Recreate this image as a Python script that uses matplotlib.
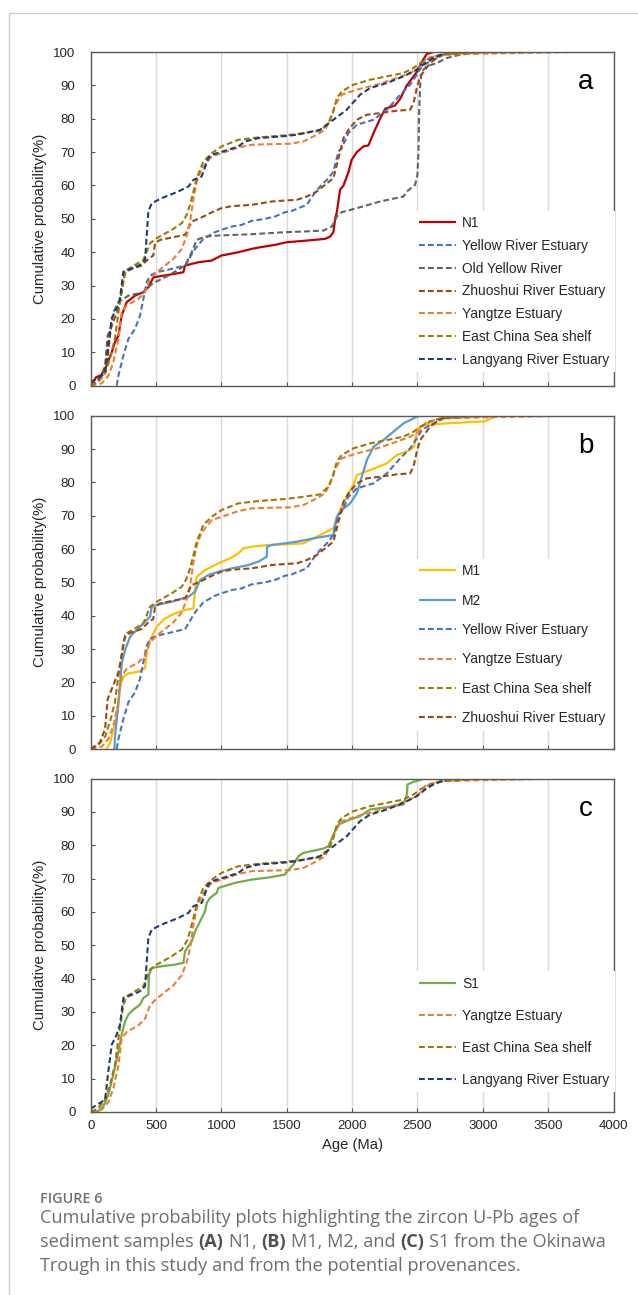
import matplotlib
matplotlib.use("Agg")
import matplotlib.pyplot as plt
from matplotlib.lines import Line2D

# ---------------- data (age in Ma, cumulative probability in %) ----------------
n1_age = [0, 40, 80, 110, 135, 161, 185, 212, 237, 275, 339, 403, 441, 467, 480, 594, 709, 722, 824, 925,
          1000, 1130, 1232, 1283, 1410, 1500, 1628, 1793, 1832, 1857, 1870, 1883, 1908, 1934, 1972, 1997,
          2036, 2087, 2125, 2164, 2214, 2253, 2329, 2368, 2419, 2457, 2495, 2533, 2571, 2622]
n1_cum = [0, 2.5, 3.2, 5, 7.5, 10, 13, 15, 21, 25, 27, 28, 29.5, 31.5, 32.5, 33.2, 34, 36, 37, 37.5,
          39, 40, 41, 41.4, 42.2, 43, 43.4, 44, 44.7, 46, 50, 52, 58.7, 60, 64, 67.7,
          70, 71.7, 72, 75.7, 80, 83, 84, 86, 90, 92, 94, 97, 99.4, 100]

yre_age = [199, 212, 250, 288, 339, 377, 403, 428, 454, 505, 619, 722, 798, 862, 951, 1000, 1079, 1155,
           1232, 1334, 1410, 1486, 1526, 1653, 1704, 1755, 1819, 1857, 1896, 1921, 1972, 2036, 2164, 2266,
           2368, 2444, 2495, 2533, 2597, 2700, 2827, 3100, 3500]
yre_cum = [0, 3, 9, 14, 17, 21, 26, 31, 33, 34, 35, 36, 41, 44, 46, 46.7, 47.7, 48.2,
           49.4, 50, 50.7, 52, 52.2, 54.2, 57.2, 59.7, 62.2, 64.2, 70.2, 71.2, 75.7, 78.2, 79.7, 82.7,
           87.2, 90.2, 93.2, 95.7, 97.2, 99.2, 99.7, 99.9, 100]

oyr_age = [0, 84, 122, 148, 173, 212, 288, 403, 454, 492, 594, 722, 773, 811, 875, 977, 1104, 1232, 1486,
           1628, 1781, 1845, 1883, 1921, 2036, 2214, 2393, 2419, 2482, 2500, 2508, 2513, 2521, 2533, 2571,
           2648, 2725, 2827, 3000]
oyr_cum = [0, 3, 6, 15, 22, 25, 27, 28, 30, 31, 33, 36, 40, 43.7, 44.7, 45, 45.2, 45.4, 46,
           46.2, 46.5, 47.7, 50.7, 52, 53.2, 55.2, 56.7, 58.2, 60.2, 63.2, 70.2, 82, 90.2, 94.2, 95.7,
           96.7, 98.2, 99.2, 100]

zre_age = [0, 71, 110, 130, 161, 212, 237, 263, 314, 390, 441, 479, 492, 531, 620, 722, 773, 837, 913,
           1000, 1079, 1232, 1385, 1486, 1577, 1653, 1730, 1793, 1857, 1896, 1934, 1972, 2036, 2113, 2214,
           2342, 2444, 2470, 2495, 2521, 2559, 2597, 2648, 2700, 2760]
zre_cum = [0, 2, 6, 15, 18, 23, 28, 34, 35, 36, 38, 39, 42.7, 43.7, 44.4, 45.2, 49.2, 50.2, 51.7,
           53.2, 53.8, 54.2, 55.2, 55.5, 55.7, 56.7, 58.2, 60.2, 62.2, 68.2, 74.2, 76.7, 79.7, 81.2, 81.7,
           82.4, 82.7, 84.7, 89.2, 92.7, 94.7, 96.7, 98.2, 99.4, 100]

ye_age = [0, 84, 135, 173, 212, 237, 275, 365, 416, 454, 505, 569, 633, 697, 735, 760, 786, 811, 849,
          926, 1028, 1130, 1232, 1385, 1526, 1628, 1730, 1793, 1832, 1870, 1921, 2036, 2189, 2342, 2444,
          2508, 2571, 2700, 3000, 3400, 3710]
ye_cum = [0, 0.7, 3, 7, 14, 22, 24, 26, 28, 32, 34, 36, 38, 41, 45, 49, 56, 61, 65,
          68.7, 70, 71.4, 72.2, 72.4, 72.5, 73.2, 75.2, 76.7, 79.7, 84.2, 87.2, 88.7, 90.2, 92.2, 93.7,
          95.2, 98.2, 99.2, 99.5, 99.8, 100]

ecs_age = [0, 59, 110, 148, 186, 212, 250, 275, 339, 403, 454, 505, 620, 697, 735, 760, 786, 811, 862,
           926, 1002, 1130, 1283, 1486, 1577, 1755, 1819, 1857, 1883, 1921, 2010, 2138, 2266, 2393, 2470,
           2521, 2597, 2674, 2801, 3000]
ecs_cum = [0, 1.2, 3.7, 8.2, 14.2, 22, 32, 34.7, 36.2, 37.7, 42.7, 44.2, 46.7, 48.7, 51.2, 54.2, 58.2, 62.2, 67.2,
           69.7, 71.7, 73.7, 74.4, 75, 75.4, 76.4, 78.7, 82.2, 86.2, 88.2, 90.2, 91.7, 92.7, 93.7, 95.2,
           96.7, 98.2, 99.2, 99.4, 100]

lre_age = [0, 71, 110, 135, 161, 199, 224, 250, 288, 377, 416, 441, 467, 543, 671, 748, 786, 849, 900,
           926, 1028, 1130, 1181, 1283, 1486, 1577, 1755, 1806, 1857, 1959, 2061, 2138, 2266, 2393, 2495,
           2559, 2622, 2700, 2725]
lre_cum = [1.0, 2.7, 3.7, 12.2, 20.2, 23.2, 26.2, 34.2, 34.7, 36.2, 37.7, 52.2, 54.7, 56.2, 58.2, 59.7, 61.7, 62.7, 68.2,
           69.2, 70.4, 71.7, 73.2, 74.2, 74.8, 75.2, 76.7, 78.2, 79.7, 82.7, 87.2, 89.2, 90.7, 92.7, 94.7,
           96.7, 98.2, 99.4, 100]

m1_age = [120, 148, 199, 224, 250, 288, 365, 416, 428, 446, 467, 505, 569, 646, 722, 786, 798, 811, 875,
          977, 1066, 1130, 1168, 1232, 1360, 1486, 1628, 1704, 1781, 1857, 1883, 1921, 1972, 2010, 2036,
          2138, 2266, 2342, 2444, 2474, 2495, 2546, 2725, 3013, 3106]
m1_cum = [0, 1.7, 9.7, 18.7, 21.7, 22.7, 23.2, 24.2, 28.7, 31.7, 33.7, 36.7, 39.2, 40.7, 41.7, 42.2, 47.2, 51.7, 53.7,
          55.7, 57.2, 58.7, 60.2, 60.7, 61.2, 61.4, 61.7, 63.2, 64.7, 66.2, 69.2, 72.7, 76.7, 79.2, 82.2,
          83.7, 85.7, 88.2, 89.7, 90.7, 95.7, 97.2, 97.7, 98.3, 100]

m2_age = [181, 186, 212, 237, 263, 301, 365, 428, 454, 467, 505, 620, 748, 798, 837, 900, 977, 1079, 1207,
          1283, 1347, 1350, 1385, 1486, 1577, 1704, 1857, 1883, 1921, 1985, 2036, 2074, 2113, 2164, 2240,
          2316, 2393, 2495, 2521]
m2_cum = [0, 3.7, 13.7, 25.7, 29.7, 33.7, 36.2, 38.7, 39.7, 42.7, 43.2, 44.2, 45.7, 47.2, 50.7, 52.2, 53.2, 54.2, 55.2,
          56.2, 57.7, 60.7, 61.2, 61.7, 62.2, 63.2, 64.2, 69.7, 71.7, 73.7, 76.7, 81.7, 86.7, 90.7, 92.7,
          95.2, 97.7, 99.7, 100]

s1_age = [0, 59, 97, 135, 173, 212, 237, 263, 288, 327, 378, 403, 441, 446, 467, 543, 645, 709, 722, 773,
          799, 837, 875, 888, 913, 964, 977, 1104, 1232, 1360, 1487, 1500, 1551, 1589, 1628, 1781, 1819,
          1857, 1896, 1985, 2061, 2138, 2266, 2393, 2419, 2424, 2470, 2559]
s1_cum = [0, 0.3, 1.7, 5.2, 11.2, 18.2, 23.2, 27.2, 29.2, 30.7, 32.2, 34.2, 35.2, 41.2, 43.2, 43.7, 44.2, 44.7, 48.2, 51.2,
          54.2, 57.2, 60.2, 62.7, 64.2, 65.7, 67.2, 68.7, 69.7, 70.3, 71.2, 72.0, 74.2, 76.7, 77.7, 79.0, 79.7,
          83.2, 86.2, 87.7, 88.7, 90.7, 91.4, 92.2, 95.2, 98.2, 99.0, 100]

panel_a_series = ["N1", "Yellow River Estuary", "Old Yellow River", "Zhuoshui River Estuary",
                  "Yangtze Estuary", "East China Sea shelf", "Langyang River Estuary"]
panel_b_series = ["M1", "M2", "Yellow River Estuary", "Yangtze Estuary", "East China Sea shelf",
                  "Zhuoshui River Estuary"]
panel_c_series = ["S1", "Yangtze Estuary", "East China Sea shelf", "Langyang River Estuary"]
panel_letters = ["a", "b", "c"]

x_ticks = [0, 500, 1000, 1500, 2000, 2500, 3000, 3500, 4000]
y_ticks = [0, 10, 20, 30, 40, 50, 60, 70, 80, 90, 100]

data = {
    "N1": (n1_age, n1_cum),
    "Yellow River Estuary": (yre_age, yre_cum),
    "Old Yellow River": (oyr_age, oyr_cum),
    "Zhuoshui River Estuary": (zre_age, zre_cum),
    "Yangtze Estuary": (ye_age, ye_cum),
    "East China Sea shelf": (ecs_age, ecs_cum),
    "Langyang River Estuary": (lre_age, lre_cum),
    "M1": (m1_age, m1_cum),
    "M2": (m2_age, m2_cum),
    "S1": (s1_age, s1_cum),
}

# ---------------- styles ----------------
DASH = (0, (2.8, 1.5))
styles = {
    "N1": ("#C00000", "-", 1.6),
    "Yellow River Estuary": ("#4472C4", DASH, 1.5),
    "Old Yellow River": ("#636363", DASH, 1.5),
    "Zhuoshui River Estuary": ("#9E480E", DASH, 1.5),
    "Yangtze Estuary": ("#ED7D31", DASH, 1.5),
    "East China Sea shelf": ("#A07800", DASH, 1.5),
    "Langyang River Estuary": ("#203C78", DASH, 1.5),
    "M1": ("#FFC000", "-", 1.6),
    "M2": ("#5B9BD5", "-", 1.6),
    "S1": ("#70AD47", "-", 1.6),
}

W, H = 638, 1295
fig = plt.figure(figsize=(W / 100, H / 100), dpi=100)
plt.rcParams["font.family"] = ["Liberation Sans", "DejaVu Sans"]

LEFT, RIGHT = 90.7, 613.5
panels = [
    (52.0, 385.7, panel_a_series, 0.525, 0.64),
    (415.7, 749.0, panel_b_series, 0.571, 1.12),
    (778.5, 1112.0, panel_c_series, 0.422, 1.31),
]

TXT = "#262626"
for i, (top, bottom, series, leg_top, lspace) in enumerate(panels):
    ax = fig.add_axes([LEFT / W, 1 - bottom / H, (RIGHT - LEFT) / W, (bottom - top) / H])
    for name in series:
        c, ls, lw = styles[name]
        xs, ys = data[name]
        ax.plot(xs, ys, color=c, linestyle=ls, linewidth=lw, label=name,
                solid_capstyle="butt", dash_capstyle="butt")
    ax.set_xlim(0, 4000)
    ax.set_ylim(0, 100)
    ax.set_xticks(x_ticks)
    ax.set_yticks(y_ticks)
    ax.grid(axis="x", color="#d9d9d9", linewidth=1.0, zorder=0)
    ax.set_axisbelow(True)
    for sp in ax.spines.values():
        sp.set_color("#595959")
        sp.set_linewidth(1.0)
    ax.tick_params(axis="both", direction="in", length=3, width=0.8, color="#595959",
                   labelsize=9.5, labelcolor=TXT)
    ax.tick_params(axis="y", pad=11)
    ax.tick_params(axis="x", pad=6)
    if i < 2:
        ax.tick_params(axis="x", labelbottom=False)
    ax.set_ylabel("Cumulative probability(%)", fontsize=10.7, color=TXT)
    ax.yaxis.set_label_coords((47.5 - LEFT) / (RIGHT - LEFT), 0.5)
    ax.text(3790, 91.0, panel_letters[i], fontsize=20, color="black", ha="center", va="center")
    leg = ax.legend(loc="upper left", bbox_to_anchor=(0.6175, leg_top), borderaxespad=0,
                    frameon=True, facecolor="white", edgecolor="none", framealpha=1,
                    fancybox=False, fontsize=9.9, handlelength=2.7, handletextpad=0.42,
                    labelspacing=lspace, borderpad=0.4)
    for t in leg.get_texts():
        t.set_color(TXT)
    leg.set_zorder(5)
    if i == 2:
        ax.set_xlabel("Age (Ma)", fontsize=10.6, color=TXT, labelpad=4)

# page border (left and top rules)
fig.add_artist(Line2D([9 / W, 9 / W, 1.0], [0.0, 1 - 13 / H, 1 - 13 / H],
                      transform=fig.transFigure, color="#cccccc", linewidth=1.0))

# ---------------- caption ----------------
renderer = fig.canvas.get_renderer()
CAP_FAM = ["Open Sans", "DejaVu Sans"]
CAP_SIZE = 13.1
fig.text(40 / W, 1 - 1203 / H, "FIGURE 6", fontsize=10.4, family=CAP_FAM, weight="semibold",
         color="#707070", va="baseline")


def measure(s, bold):
    t = fig.text(0, 0, s, fontsize=CAP_SIZE, family=CAP_FAM, weight="bold" if bold else "normal")
    w = t.get_window_extent(renderer).width
    t.remove()
    return w


space_w = measure("x x", False) - measure("xx", False)


def rich_line(x_px, base_px, parts):
    x = x_px
    for k, (s, bold) in enumerate(parts):
        t = fig.text(x / W, 1 - base_px / H, s, fontsize=CAP_SIZE, family=CAP_FAM,
                     weight="bold" if bold else "normal",
                     color="#505050" if bold else "#6d6d6d", va="baseline")
        x += t.get_window_extent(renderer).width
        if k < len(parts) - 1:
            x += space_w


rich_line(40, 1223, [("Cumulative probability plots highlighting the zircon U-Pb ages of", False)])
rich_line(40, 1247, [("sediment samples", False), ("(A)", True), ("N1,", False), ("(B)", True),
                     ("M1, M2, and", False), ("(C)", True), ("S1 from the Okinawa", False)])
rich_line(40, 1271, [("Trough in this study and from the potential provenances.", False)])

fig.savefig("out.png", dpi=100)
